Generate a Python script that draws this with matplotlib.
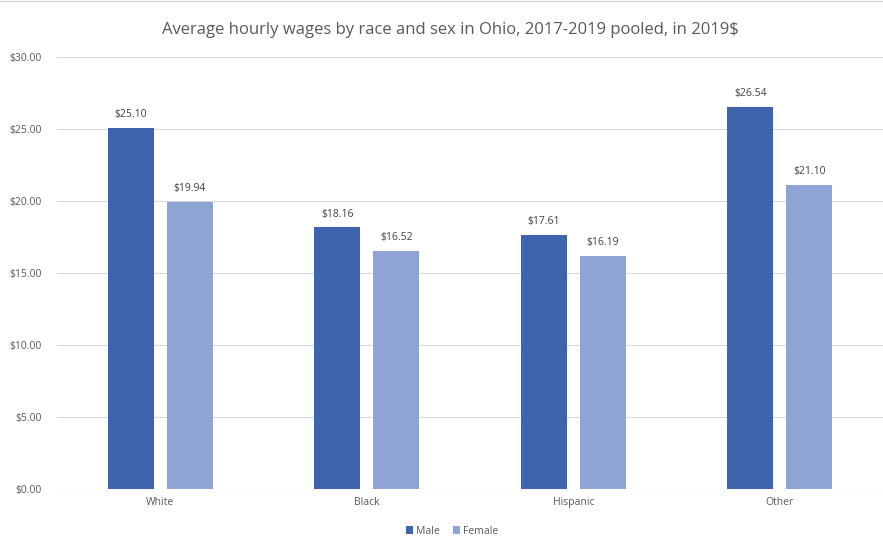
import numpy as np
import matplotlib.pyplot as plt

races = ["White", "Black", "Hispanic", "Other"]
male = [25.10, 18.16, 17.61, 26.54]
female = [19.94, 16.52, 16.19, 21.10]
yticks = [0, 5, 10, 15, 20, 25, 30]

plt.rcParams['font.family'] = ['Open Sans', 'DejaVu Sans']
grey = '#595959'

fig = plt.figure(figsize=(8.83, 5.37), dpi=100)
ax = fig.add_axes([57 / 883, 1 - 489 / 537, 826 / 883, 432 / 537])

x = np.arange(len(races))
w = 0.223
off = 0.143
b1 = ax.bar(x - off, male, w, color='#3D64AD', label='Male', zorder=2)
b2 = ax.bar(x + off, female, w, color='#8FA4D4', label='Female', zorder=2)

for bars, vals in ((b1, male), (b2, female)):
    for r, v in zip(bars, vals):
        ax.text(r.get_x() + r.get_width() / 2, v + 0.55, f"${v:.2f}",
                ha='center', va='bottom', fontsize=7.5, color='#404040')

ax.set_xlim(-0.5, 3.5)
ax.set_ylim(0, 30)
ax.set_yticks(yticks)
ax.set_yticklabels([f"${t:.2f}" for t in yticks])
ax.set_xticks(x)
ax.set_xticklabels(races)
ax.tick_params(axis='both', length=0, labelsize=7.5, colors=grey)
ax.tick_params(axis='y', pad=11)
ax.tick_params(axis='x', pad=6)
ax.grid(axis='y', color='#D9D9D9', linewidth=0.8, zorder=0)
for s in ax.spines.values():
    s.set_visible(False)

fig.suptitle("Average hourly wages by race and sex in Ohio, 2017-2019 pooled, in 2019$",
             x=0.51, y=1 - 30 / 537, va='center', fontsize=12, color=grey)

fig.legend(loc='center', bbox_to_anchor=(452 / 883, 1 - 531 / 537), ncol=2,
           frameon=False, fontsize=7.5, handlelength=0.7, handleheight=0.7,
           handletextpad=0.3, columnspacing=1.2, labelcolor=grey)

fig.add_artist(plt.Line2D([0, 1], [1 - 1 / 537, 1 - 1 / 537], color='#D9D9D9', lw=1))

fig.savefig("out.png", dpi=100)
